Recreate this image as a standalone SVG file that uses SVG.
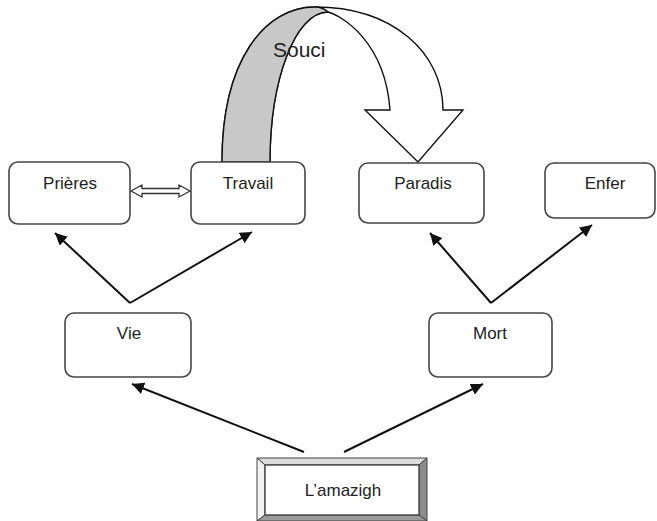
<svg xmlns="http://www.w3.org/2000/svg" width="657" height="521" viewBox="0 0 657 521">
<defs>
<style>
.box{fill:#fff;stroke:#454545;stroke-width:1.6}
.lbl{font-family:"Liberation Sans",Arial,sans-serif;font-size:17px;fill:#222;text-anchor:middle}
.conn{stroke:#111;stroke-width:2;fill:none;marker-end:url(#ah)}
</style>
<marker id="ah" markerUnits="userSpaceOnUse" markerWidth="14" markerHeight="12" refX="12" refY="6" orient="auto">
<path d="M0,0 L12,6 L0,12 Z" fill="#111"/>
</marker>
</defs>
<rect width="657" height="521" fill="#fff"/>

<g id="souci">
<path d="M222,162 C222,60 265,7 315,7 C392,7 443,52 443,110 L463,110 L418,162 L365,110 L390,110 C385,40 340,15 328,12 C295,12 270,80 270,162 Z" fill="#fff" stroke="#111" stroke-width="1.4" stroke-linejoin="miter"/>
<path d="M222,162 C222,60 265,7 315,7 C319,7 324,8 328,12 C295,12 270,80 270,162 Z" fill="#c8c8c8" stroke="#111" stroke-width="1.4"/>
<text x="273" y="57" font-family="'Liberation Sans',Arial,sans-serif" font-size="21" fill="#222">Souci</text>
</g>

<g id="connectors">
<line class="conn" x1="130" y1="303" x2="55" y2="233"/>
<line class="conn" x1="130" y1="303" x2="252" y2="232"/>
<line class="conn" x1="491" y1="303" x2="430" y2="233"/>
<line class="conn" x1="491" y1="303" x2="592" y2="225"/>
<line class="conn" x1="304" y1="452" x2="132" y2="384"/>
<line class="conn" x1="344" y1="452" x2="483" y2="384"/>
<path d="M131,191 L142,185 L142,188.5 L179,188.5 L179,185 L190,191 L179,197 L179,193.5 L142,193.5 L142,197 Z" fill="#fff" stroke="#333" stroke-width="1.3"/>
</g>

<g id="prieres">
<rect class="box" x="9" y="162" width="121" height="62" rx="9"/>
<text class="lbl" x="70" y="189">Prières</text>
</g>
<g id="travail">
<rect class="box" x="191" y="162" width="114" height="62" rx="9"/>
<text class="lbl" x="248" y="189">Travail</text>
</g>
<g id="paradis">
<rect class="box" x="359" y="163" width="125" height="60" rx="9"/>
<text class="lbl" x="423" y="189">Paradis</text>
</g>
<g id="enfer">
<rect class="box" x="545" y="163" width="110" height="55" rx="9"/>
<text class="lbl" x="605" y="189">Enfer</text>
</g>
<g id="vie">
<rect class="box" x="65" y="313" width="126" height="64" rx="9"/>
<text class="lbl" x="129" y="339">Vie</text>
</g>
<g id="mort">
<rect class="box" x="429" y="313" width="123" height="64" rx="9"/>
<text class="lbl" x="490" y="339">Mort</text>
</g>
<g id="lamazigh">
<polygon points="257,458 427,458 419,465 265,465" fill="#dcdcdc" stroke="#444" stroke-width="1"/>
<polygon points="257,458 265,465 265,515 257,521" fill="#f2f2f2" stroke="#444" stroke-width="1"/>
<polygon points="427,458 427,521 419,515 419,465" fill="#8c8c8c" stroke="#444" stroke-width="1"/>
<polygon points="257,521 265,515 419,515 427,521" fill="#9a9a9a" stroke="#444" stroke-width="1"/>
<rect x="265" y="465" width="154" height="50" fill="#fff" stroke="#444" stroke-width="1.4"/>
<text class="lbl" x="343" y="496">L’amazigh</text>
</g>
</svg>
